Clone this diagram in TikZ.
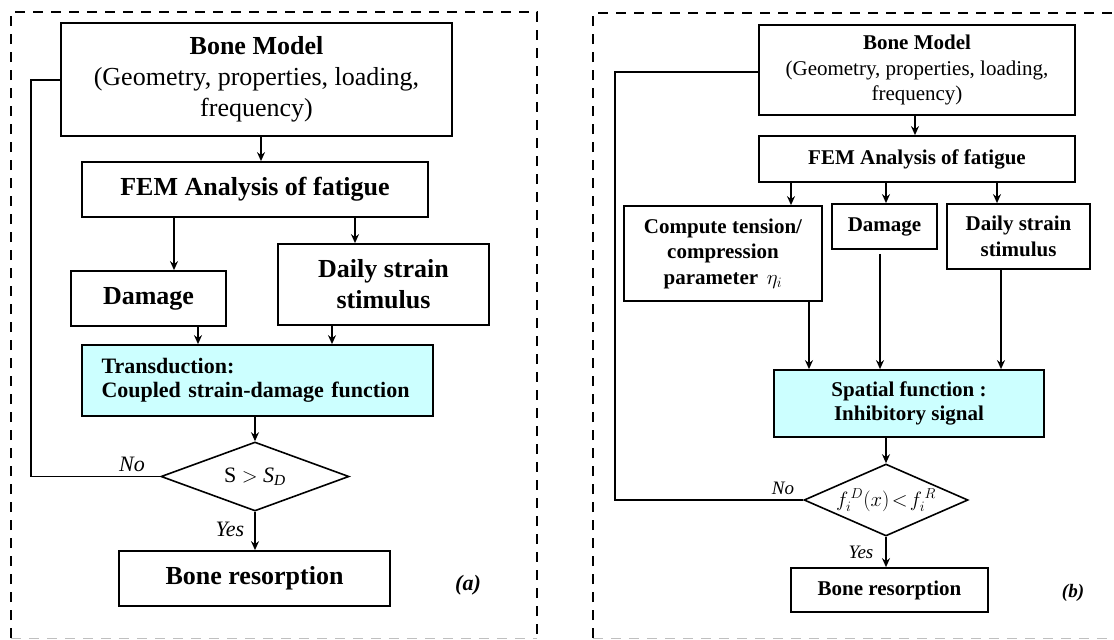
\documentclass[tikz,border=0pt]{standalone}
\usepackage{fontspec}
\setmainfont{Liberation Serif}
\usepackage{amsmath}
\usepackage{xcolor}
\usetikzlibrary{arrows.meta,shapes.geometric}
\definecolor{signalcyan}{HTML}{CCFFFF}

\begin{document}
\begin{tikzpicture}[
            x=1pt, y=-1pt,
            line join=miter,
            >={Stealth[length=9pt,width=8pt,inset=3pt]},
            frame/.style={line width=1.6pt, dash pattern=on 10pt off 8pt},
            box/.style={draw, line width=1.8pt, inner sep=0pt, align=center},
            boxA/.style={box, font=\fontsize{26}{31}\selectfont},
            boxB/.style={box, font=\fontsize{21}{25.5}\selectfont},
            decision/.style={diamond, draw, line width=1.6pt, inner sep=0pt, aspect=2.6},
            flow/.style={line width=1.3pt},
            tag/.style={font=\fontsize{22}{24}\selectfont\itshape}
        ]

        \useasboundingbox (0,0) rectangle (1114,640);

        % Dashed frames
        \draw[frame] (11,638) -- (11,12) -- (537,12) -- (537,638);
        \draw[frame, black!25] (11,638.5) -- (537,638.5);
        \draw[frame] (593,638) -- (593,13) -- (1120,13);
        \draw[frame, black!25] (593,638.5) -- (1114,638.5);

        % ---------------- (a) ----------------
        \node[boxA, minimum width=391pt, minimum height=113pt] (bmA) at (256.5,79.5)
            {\textbf{Bone Model}\\(Geometry, properties, loading,\\frequency)};
        \node[boxA, minimum width=346pt, minimum height=55pt] (femA) at (255,189.5)
            {\textbf{FEM Analysis of fatigue}};
        \node[boxA, minimum width=155pt, minimum height=55pt] (dmgA) at (148.5,298.5)
            {\textbf{Damage}};
        \node[boxA, minimum width=211pt, minimum height=81pt] (dailyA) at (383.5,284.5)
            {\textbf{Daily strain}\\\textbf{stimulus}};
        \node[box, fill=signalcyan, minimum width=351pt, minimum height=71pt,
              text width=312pt, align=left, font=\fontsize{22}{24}\selectfont\bfseries]
            (transA) at (257.5,380.5)
            {Transduction:\\Coupled strain-damage function};
        \node[decision, minimum width=188pt, minimum height=69pt,
              font=\fontsize{22}{24}\selectfont] (decA) at (255,476.5)
            {S $>$ \textit{S}\textsubscript{\textit{D}}};
        \node[boxA, minimum width=271pt, minimum height=55pt] (resA) at (254.5,578.5)
            {\textbf{Bone resorption}};

        \coordinate (xA1) at (174,0);
        \coordinate (xA2) at (355,0);
        \coordinate (xA3) at (198,0);
        \coordinate (xA4) at (332,0);
        \coordinate (loopA) at (31,80);

        \draw[flow,->] (bmA.south -| 261,0) -- (femA.north -| 261,0);
        \draw[flow,->] (femA.south -| xA1) -- (dmgA.north -| xA1);
        \draw[flow,->] (femA.south -| xA2) -- (dailyA.north -| xA2);
        \draw[flow,->] (dmgA.south -| xA3) -- (transA.north -| xA3);
        \draw[flow,->] (dailyA.south -| xA4) -- (transA.north -| xA4);
        \draw[flow,->] (transA.south -| decA) -- (decA.north);
        \draw[flow,->] (decA.south) -- (resA.north -| decA);
        \draw[flow] (decA.west) -| (loopA) -- (bmA.west |- loopA);

        \node[tag] (noA) at (132,464) {No};
        \node[tag] (yesA) at (230,529) {Yes};
        \node[tag, font=\fontsize{22}{24}\selectfont\bfseries\itshape] (labA) at (468,585) {(a)};

        % ---------------- (b) ----------------
        \node[boxB, minimum width=316pt, minimum height=90pt] (bmB) at (917,70)
            {\textbf{Bone Model}\\(Geometry, properties, loading,\\frequency)};
        \node[boxB, minimum width=316pt, minimum height=46pt] (femB) at (917,159)
            {\textbf{FEM Analysis of fatigue}};
        \node[boxB, minimum width=198pt, minimum height=95pt, font=\fontsize{21}{25.5}\selectfont\bfseries]
            (compB) at (723,253.5)
            {Compute tension/\\compression\\parameter \,$\eta_i$};
        \node[boxB, minimum width=105pt, minimum height=45pt] (dmgB) at (884.5,226.5)
            {\textbf{Damage}};
        \node[boxB, minimum width=143pt, minimum height=65pt] (dailyB) at (1018.5,236.5)
            {\textbf{Daily strain}\\\textbf{stimulus}};
        \node[boxB, fill=signalcyan, minimum width=270pt, minimum height=67pt,
              font=\fontsize{21}{23.5}\selectfont\bfseries] (spatB) at (909,403.5)
            {Spatial function :\\Inhibitory signal};
        \node[decision, minimum width=164pt, minimum height=72pt,
              font=\fontsize{22}{24}\selectfont] (decB) at (886,500)
            {$f_i^{\,D}\!\left(x\right)\!<\! f_i^{\,R}$};
        \node[boxB, minimum width=197pt, minimum height=44pt] (resB) at (889.5,590)
            {\textbf{Bone resorption}};

        \coordinate (xB1) at (791,0);
        \coordinate (xB2) at (886,0);
        \coordinate (xB3) at (997,0);
        \coordinate (xB4) at (809,0);
        \coordinate (xB5) at (880,0);
        \coordinate (xB6) at (1001,0);
        \coordinate (loopB) at (615,72);

        \draw[flow,->] (bmB.south -| 915,0) -- (femB.north -| 915,0);
        \draw[flow,->] (femB.south -| xB1) -- (compB.north -| xB1);
        \draw[flow,->] (femB.south -| xB2) -- (dmgB.north -| xB2);
        \draw[flow,->] (femB.south -| xB3) -- (dailyB.north -| xB3);
        \draw[flow,->] (compB.south -| xB4) -- (spatB.north -| xB4);
        \draw[flow,->,shorten <=4pt] (dmgB.south -| xB5) -- (spatB.north -| xB5);
        \draw[flow,->] (dailyB.south -| xB6) -- (spatB.north -| xB6);
        \draw[flow,->] (spatB.south -| decB) -- (decB.north);
        \draw[flow,->] (decB.south) -- (resB.north -| decB);
        \draw[flow] (decB.west) -| (loopB) -- (bmB.west |- loopB);

        \node[tag, font=\fontsize{19}{21}\selectfont\itshape] (noB) at (783,488) {No};
        \node[tag, font=\fontsize{19}{21}\selectfont\itshape] (yesB) at (861,552) {Yes};
        \node[tag, font=\fontsize{19}{21}\selectfont\bfseries\itshape] (labB) at (1073,593) {(b)};

\end{tikzpicture}
\end{document}
